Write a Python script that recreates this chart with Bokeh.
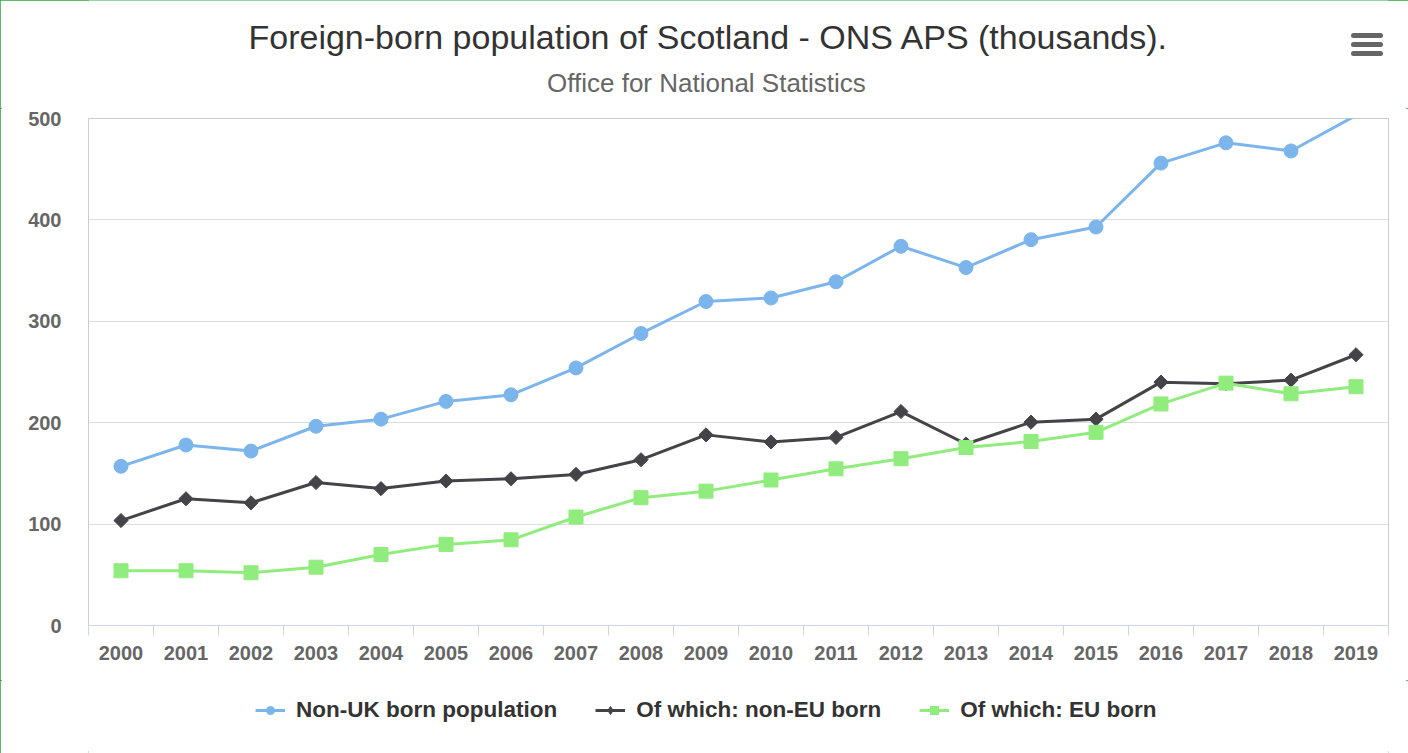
import math
from bokeh.plotting import figure
from bokeh.layouts import column
from bokeh.models import Range1d, FixedTicker, Legend, LegendItem
from bokeh.core.properties import value
from bokeh.embed import file_html
from bokeh.resources import INLINE

YEARS = list(range(2000, 2020))
NON_UK = [157, 178, 172, 196.5, 203.5, 221, 227.5, 254, 288, 319.5,
          323, 339, 374, 353, 380.5, 393, 456, 476, 468, 503]
NON_EU = [103.5, 125, 121, 141, 135, 142.5, 144.7, 149, 163.5, 188,
          181, 185.5, 211, 179, 200.5, 203.5, 240, 238.5, 242, 267]
EU = [54, 54, 52, 57.5, 70, 80, 84.5, 107, 126, 132.5,
      143.5, 154.5, 164.5, 175.5, 181.5, 190.5, 218.5, 239, 228.5, 235.5]
Y_TICKS = [0, 100, 200, 300, 400, 500]
TITLE = "Foreign-born population of Scotland - ONS APS (thousands)."
SUBTITLE = "Office for National Statistics"
NAMES = ["Non-UK born population", "Of which: non-EU born", "Of which: EU born"]
COLORS = ["#7cb5ec", "#434348", "#90ed7d"]

W = 1408
H_HEAD, H_MAIN, H_LEG = 108, 572, 73
FL, FR = 88, 1388          # frame left / right in page pixels (frames are aligned)
FONT = value("Liberation Sans")

# ---- header (title, subtitle, menu icon) ----
head = figure(width=W, height=H_HEAD, output_backend="svg", toolbar_location=None,
              x_range=Range1d(FL, FR), y_range=Range1d(H_HEAD, 0),
              x_axis_location=None, y_axis_location=None, min_border=0,
              min_border_left=FL, min_border_right=W - FR)
head.outline_line_color = None
head.grid.grid_line_color = None
head.text(x=[248], y=[36], text=[TITLE], text_align="left",
          text_baseline="middle", text_font=FONT, text_font_size="34px",
          text_color="#333333")
head.text(x=[546.5], y=[82.5], text=[SUBTITLE], text_align="left",
          text_baseline="middle", text_font=FONT, text_font_size="26px",
          text_color="#666666")
head.segment(x0=[1353] * 3, x1=[1380] * 3, y0=[35, 44, 53], y1=[35, 44, 53],
             line_color="#666666", line_width=5, line_cap="round")

# ---- main chart ----
p = figure(width=W, height=H_MAIN, output_backend="svg", toolbar_location=None,
           x_range=Range1d(YEARS[0] - 0.5, YEARS[-1] + 0.5),
           y_range=Range1d(Y_TICKS[0], Y_TICKS[-1]),
           min_border_left=FL, min_border_right=W - FR, min_border_top=10,
           min_border_bottom=55)
p.background_fill_color = "white"
p.border_fill_color = "white"
p.outline_line_color = "#cccccc"
p.outline_line_width = 1

xa = p.xaxis[0]
xa.ticker = FixedTicker(ticks=YEARS, minor_ticks=[y - 0.5 for y in YEARS] + [YEARS[-1] + 0.5])
xa.major_label_overrides = {y: str(y) for y in YEARS}
xa.major_tick_line_color = None
xa.major_tick_out = 0
xa.major_tick_in = 0
xa.minor_tick_line_color = "#ccd6eb"
xa.minor_tick_out = 10
xa.minor_tick_in = 0
xa.axis_line_color = "#ccd6eb"
xa.axis_line_width = 1
xa.major_label_text_font = "Liberation Sans"
xa.major_label_text_font_size = "20px"
xa.major_label_text_font_style = "bold"
xa.major_label_text_color = "#666666"
xa.major_label_standoff = 10

ya = p.yaxis[0]
ya.ticker = FixedTicker(ticks=Y_TICKS)
ya.axis_line_color = None
ya.major_tick_line_color = None
ya.minor_tick_line_color = None
ya.major_tick_out = 0
ya.major_tick_in = 0
ya.major_label_text_font = "Liberation Sans"
ya.major_label_text_font_size = "20px"
ya.major_label_text_font_style = "bold"
ya.major_label_text_color = "#666666"
ya.major_label_standoff = 27

p.xgrid.grid_line_color = None
p.ygrid.grid_line_color = "#dddddd"
p.ygrid.grid_line_width = 1

ymax = Y_TICKS[-1]
series = [(NON_UK, "circle", 14, 0.0), (NON_EU, "square", 10, math.pi / 4),
          (EU, "square", 14, 0.0)]
for (vals, marker, size, ang), col in zip(series, COLORS):
    p.line(YEARS, vals, line_color=col, line_width=3)
    mx = [x for x, v in zip(YEARS, vals) if v <= ymax]
    my = [v for v in vals if v <= ymax]
    p.scatter(mx, my, marker=marker, size=size, angle=ang,
              fill_color=col, line_color=col)

# ---- legend strip (its renderers carry the series but fall outside its view) ----
leg = figure(width=W, height=H_LEG, output_backend="svg", toolbar_location=None,
             x_range=Range1d(0, 1), y_range=Range1d(0, 1),
             x_axis_location=None, y_axis_location=None, min_border=0,
             min_border_left=FL, min_border_right=W - FR)
leg.outline_line_color = None
leg.grid.grid_line_color = None
items = []
leg_markers = [("circle", 12), ("diamond", 14), ("square", 12)]
for (vals, _m, _s, _a), name, col, (lm, ls) in zip(series, NAMES, COLORS, leg_markers):
    ln = leg.line(YEARS, vals, line_color=col, line_width=3)
    sc = leg.scatter(YEARS, vals, marker=lm, size=ls,
                     fill_color=col, line_color=col)
    items.append(LegendItem(label=name, renderers=[ln, sc]))
legend = Legend(items=items, orientation="horizontal", location=(255 - FL, 30),
                label_text_font="Liberation Sans", label_text_font_size="22.5px",
                label_text_font_style="bold", label_text_color="#333333",
                glyph_width=30, glyph_height=20, label_standoff=11, spacing=38,
                border_line_color=None, background_fill_alpha=0,
                margin=0, padding=0)
leg.add_layout(legend)

page = column(head, p, leg, spacing=0)
page.styles = {"outline": "2px solid #2ea043", "outline-offset": "-2px"}

open("out.html", "w").write(file_html(page, INLINE))
